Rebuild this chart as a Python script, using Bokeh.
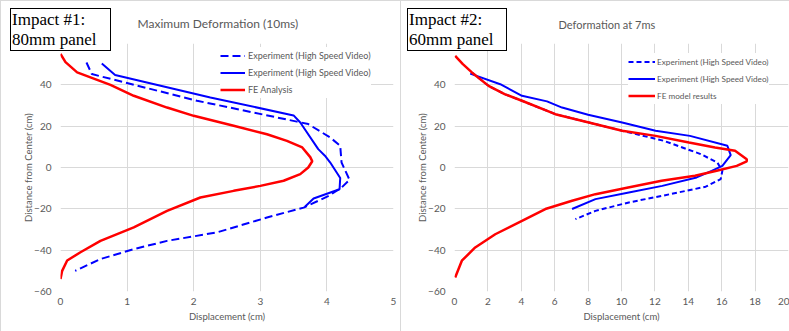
from bokeh.plotting import figure
from bokeh.layouts import row
from bokeh.models import Range1d, Legend, LegendItem, FixedTicker, Div
from bokeh.embed import file_html
from bokeh.resources import INLINE

# ---------------- data ----------------
y_ticks = [-60, -40, -20, 0, 20, 40, 60]
left_x_ticks = [0, 1, 2, 3, 4, 5]
right_x_ticks = [0, 2, 4, 6, 8, 10, 12, 14, 16, 18, 20]

left_title = "Maximum Deformation (10ms)"
right_title = "Deformation at 7ms"
left_box = ["Impact #1:", "80mm panel"]
right_box = ["Impact #2:", "60mm panel"]
x_title = "Displacement (cm)"
y_title = "Distance from Center (cm)"
left_labels = ["Experiment (High Speed Video)", "Experiment (High Speed Video)", "FE Analysis"]
right_labels = ["Experiment (High Speed Video)", "Experiment (High Speed Video)", "FE model results"]

# Impact #1 (left)
l_dash_x = [0.39, 0.47, 2.05, 3.55, 3.72, 4.05, 4.2, 4.22, 4.34, 4.22, 4.03, 3.65, 3.1, 2.35, 1.6, 1.1, 0.6, 0.22]
l_dash_y = [50.8, 45.2, 32.3, 22.2, 21.0, 14.5, 10.5, 2.4, -6.0, -9.7, -13.7, -19.4, -24.2, -31.4, -35.5, -39.5, -44.3, -50.0]
l_solid_x = [0.62, 0.82, 2.25, 3.5, 3.6, 3.87, 3.97, 4.05, 4.2, 4.19, 3.8, 3.67]
l_solid_y = [50.3, 44.8, 33.9, 25.2, 21.8, 8.9, 5.7, 2.4, -5.1, -10.5, -15.0, -19.0]
l_fe_x = [0.0, 0.075, 0.25, 0.75, 1.1, 1.6, 2.0, 2.6, 3.1, 3.4, 3.63, 3.75, 3.78, 3.72, 3.6, 3.35, 3.0, 2.6, 2.1, 1.6, 1.1, 0.6, 0.3, 0.1, 0.025, 0.0]
l_fe_y = [55.0, 51.0, 46.0, 40.0, 34.7, 29.0, 25.0, 20.2, 16.1, 12.9, 9.7, 5.0, 3.0, 0.0, -3.2, -6.4, -8.9, -11.3, -14.5, -21.0, -29.0, -35.5, -41.0, -45.0, -50.0, -54.0]

# Impact #2 (right)
r_dash_x = [1.04, 2.04, 3.0, 4.04, 6.04, 8.04, 10.04, 12.54, 14.74, 15.74, 16.04, 15.94, 15.04, 12.44, 10.44, 8.44, 7.24]
r_dash_y = [46.0, 39.5, 35.5, 32.3, 25.8, 21.8, 17.8, 12.9, 6.5, 2.4, -1.6, -5.6, -9.3, -13.7, -16.9, -21.0, -25.0]
r_solid_x = [0.94, 2.74, 4.04, 5.54, 6.44, 8.0, 10.04, 12.04, 14.1, 16.34, 16.54, 16.04, 15.4, 14.5, 12.44, 10.44, 8.44, 7.04]
r_solid_y = [45.4, 40.3, 34.7, 32.0, 29.0, 25.5, 21.8, 17.8, 15.3, 10.5, 6.0, 0.8, -1.6, -4.8, -8.9, -12.1, -15.3, -20.1]
r_fe_x = [0.04, 0.5, 1.04, 2.04, 3.0, 4.04, 6.04, 8.04, 10.04, 12.04, 14.04, 15.6, 16.8, 17.5, 17.5, 16.9, 15.7, 14.4, 12.4, 10.4, 8.44, 7.04, 5.44, 4.04, 2.44, 1.24, 0.44, 0.04]
r_fe_y = [54.0, 50.0, 46.0, 39.5, 35.5, 32.3, 25.8, 21.8, 17.8, 15.3, 12.1, 9.7, 8.1, 4.0, 3.0, 0.8, -1.6, -4.0, -6.4, -9.7, -12.9, -16.1, -20.1, -25.8, -32.3, -38.7, -45.1, -53.2]

# ---------------- style ----------------
GRAY = "#595959"
GRID = "#d9d9d9"
FONT = "Lato"
BLUE = "#0000ff"
RED = "#ff0000"


def make_fig(width, mbl, mbr, xmax, xticks, shadow, title, title_offset, title_size):
    p = figure(width=width, height=331, output_backend="svg", toolbar_location=None,
               x_range=Range1d(0, xmax), y_range=Range1d(-60, 60),
               min_border_left=mbl, min_border_right=mbr,
               min_border_top=43, min_border_bottom=40, title=title)
    p.border_fill_color = None
    p.background_fill_color = "white"
    p.outline_line_color = None
    p.styles = {"box-shadow": shadow}
    p.title.align = "left"
    p.title.offset = title_offset
    p.title.text_font = FONT
    p.title.text_font_size = title_size
    p.title.text_font_style = "normal"
    p.title.text_color = GRAY
    p.title.standoff = 26
    p.xaxis.ticker = FixedTicker(ticks=xticks)
    p.yaxis.ticker = FixedTicker(ticks=y_ticks)
    for ax in (p.xaxis[0], p.yaxis[0]):
        ax.axis_line_color = None
        ax.major_tick_line_color = None
        ax.minor_tick_line_color = None
        ax.major_tick_in = 0
        ax.major_tick_out = 0
        ax.major_label_text_font = FONT
        ax.major_label_text_font_size = "10px"
        ax.major_label_text_color = GRAY
        ax.axis_label_text_font = FONT
        ax.axis_label_text_font_size = "9.5px"
        ax.axis_label_text_font_style = "normal"
        ax.axis_label_text_color = GRAY
    p.xaxis.axis_label = x_title
    p.yaxis.axis_label = y_title
    p.xaxis.major_label_standoff = 6
    p.xaxis.axis_label_standoff = 3
    p.yaxis.major_label_standoff = 9
    p.yaxis.axis_label_standoff = -3
    p.xgrid.ticker = FixedTicker(ticks=xticks)
    p.ygrid.ticker = FixedTicker(ticks=y_ticks)
    p.grid.grid_line_color = GRID
    p.grid.grid_line_width = 1
    return p


def text_box(lines, left, width):
    return Div(text="<br>".join(lines), margin=0,
               styles={"position": "absolute", "left": f"{left}px", "top": "8px",
                       "width": f"{width}px", "height": "40px", "border": "1.5px solid black",
                       "background": "white", "font-family": "Liberation Serif",
                       "font-size": "17px", "line-height": "19.5px", "padding": "1px 0 0 1px",
                       "color": "black", "z-index": "10", "box-sizing": "content-box",
                       "margin": "0", "white-space": "nowrap"})


# left chart
p1 = make_fig(400, 60, 7, 5, left_x_ticks,
              "inset 13px 0 0 -12px #d9d9d9, inset 0 9px 0 -8px #d9d9d9", left_title, 77, "12px")
d1 = p1.line(l_dash_x, l_dash_y, line_color=BLUE, line_width=2, line_dash="8 4")
s1 = p1.line(l_solid_x, l_solid_y, line_color=BLUE, line_width=2)
f1 = p1.line(l_fe_x, l_fe_y, line_color=RED, line_width=2.5)
leg1 = Legend(items=[LegendItem(label=left_labels[0], renderers=[d1]),
                     LegendItem(label=left_labels[1], renderers=[s1]),
                     LegendItem(label=left_labels[2], renderers=[f1])],
              location=(160, 193), padding=3, spacing=0, margin=0,
              glyph_width=25, glyph_height=17, label_height=17, label_standoff=3,
              label_text_font=FONT, label_text_font_size="9px", label_text_color=GRAY,
              background_fill_color="white", background_fill_alpha=1, border_line_color=None)
p1.add_layout(leg1)

# right chart
p2 = make_fig(389, 54, 1, 20, right_x_ticks,
              "inset 8px 0 0 -7px #d9d9d9, inset 0 9px 0 -8px #d9d9d9", right_title, 104, "11px")
d2 = p2.line(r_dash_x, r_dash_y, line_color=BLUE, line_width=2, line_dash="5 3")
s2 = p2.line(r_solid_x, r_solid_y, line_color=BLUE, line_width=2)
f2 = p2.line(r_fe_x, r_fe_y, line_color=RED, line_width=2.5)
leg2 = Legend(items=[LegendItem(label=right_labels[0], renderers=[d2]),
                     LegendItem(label=right_labels[1], renderers=[s2]),
                     LegendItem(label=right_labels[2], renderers=[f2])],
              location=(174, 187), padding=3, spacing=0, margin=0,
              glyph_width=27, glyph_height=17, label_height=17, label_standoff=2,
              label_text_font=FONT, label_text_font_size="8.2px", label_text_color=GRAY,
              background_fill_color="white", background_fill_alpha=1, border_line_color=None)
p2.add_layout(leg2)

box1 = text_box(left_box, 10, 98)
box2 = text_box(right_box, 407, 97)

layout = row(p1, p2, box1, box2)
open("out.html", "w").write(file_html(layout, INLINE))
